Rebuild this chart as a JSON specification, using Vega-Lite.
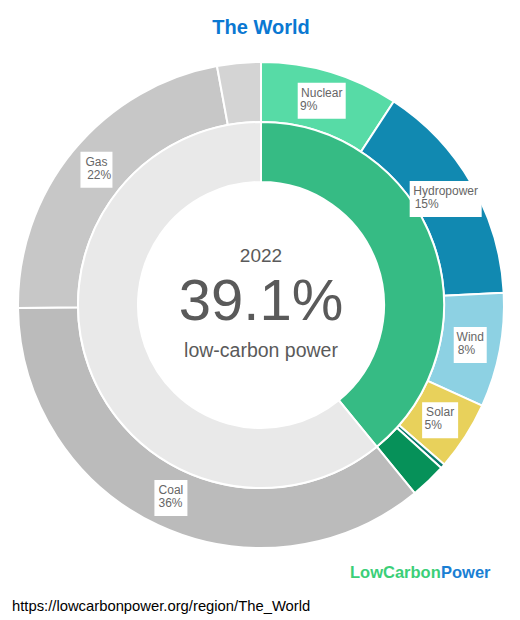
{
  "$schema": "https://vega.github.io/schema/vega-lite/v6.json",
  "width": 518,
  "height": 510,
  "autosize": "none",
  "padding": {"left": 2, "top": 50, "right": 0, "bottom": 60},
  "background": "white",
  "title": {"text": "The World", "fontSize": 20, "font": "Liberation Sans", "fontWeight": "bold", "color": "#0a78d2", "anchor": "middle", "offset": 12},
  "config": {"view": {"stroke": null}, "text": {"font": "Liberation Sans"}},
  "datasets": {
    "mix": [
      {"category": "Nuclear", "value": 0.092},
      {"category": "Hydropower", "value": 0.150},
      {"category": "Wind", "value": 0.076},
      {"category": "Solar", "value": 0.046},
      {"category": "Geothermal", "value": 0.003},
      {"category": "Biofuels", "value": 0.024},
      {"category": "Coal", "value": 0.357},
      {"category": "Gas", "value": 0.223},
      {"category": "Oil", "value": 0.029}
    ],
    "split": [
      {"category": "Low-carbon", "value": 0.391},
      {"category": "Fossil", "value": 0.609}
    ],
    "headline": [
      {"year": "2022", "share": 0.391, "caption": "low-carbon power", "url": "https://lowcarbonpower.org/region/The_World"}
    ]
  },
  "layer": [
    {
      "data": {"name": "mix"},
      "transform": [{"window": [{"op": "row_number", "as": "rank"}]}],
      "mark": {"type": "arc", "outerRadius": 243, "innerRadius": 183, "stroke": "white", "strokeWidth": 2},
      "encoding": {
        "theta": {"field": "value", "type": "quantitative", "stack": true},
        "color": {"field": "category", "type": "nominal", "legend": null,
          "scale": {"domain": ["Nuclear","Hydropower","Wind","Solar","Geothermal","Biofuels","Coal","Gas","Oil","Low-carbon","Fossil"],
                    "range": ["#57dba6","#1189b1","#8dd1e3","#e8d15b","#0b7a6c","#069159","#bbbbbb","#c7c7c7","#d4d4d4","#36bb84","#e9e9e9"]}},
        "order": {"field": "rank", "type": "quantitative"}
      }
    },
    {
      "data": {"name": "split"},
      "transform": [{"window": [{"op": "row_number", "as": "rank"}]}],
      "mark": {"type": "arc", "outerRadius": 183, "innerRadius": 123, "stroke": "white", "strokeWidth": 2},
      "encoding": {
        "theta": {"field": "value", "type": "quantitative", "stack": true},
        "color": {"field": "category", "type": "nominal", "legend": null},
        "order": {"field": "rank", "type": "quantitative"}
      }
    },
    {
      "data": {"name": "mix"},
      "transform": [
        {"window": [{"op": "row_number", "as": "rank"}]},
        {"stack": "value", "groupby": [], "sort": [{"field": "rank", "order": "ascending"}], "as": ["v0", "v1"], "offset": "normalize"},
        {"filter": "datum.value >= 0.04"}
      ],
      "mark": {"type": "point", "filled": true, "fill": "white", "opacity": 1, "fillOpacity": 1, "strokeWidth": 0, "size": 10000,
        "x": {"expr": "width / 2 + 213 * sin(PI * (datum.v0 + datum.v1))"},
        "y": {"expr": "height / 2 - 213 * cos(PI * (datum.v0 + datum.v1))"}},
      "encoding": {
        "shape": {"field": "category", "type": "nominal", "legend": null,
          "scale": {"domain": ["Nuclear","Hydropower","Wind","Solar","Coal","Gas"],
                    "range": ["M-0.48,-0.36H0.48V0.36H-0.48Z","M-0.72,-0.36H0.72V0.36H-0.72Z","M-0.33,-0.36H0.33V0.36H-0.33Z","M-0.36,-0.36H0.36V0.36H-0.36Z","M-0.33,-0.36H0.33V0.36H-0.33Z","M-0.32,-0.36H0.32V0.36H-0.32Z"]}}
      }
    },
    {
      "data": {"name": "mix"},
      "transform": [{"window": [{"op": "row_number", "as": "rank"}]}],
      "mark": {"type": "text", "dy": -4, "align": "center", "baseline": "alphabetic", "fontSize": 12, "fill": "#666666"},
      "encoding": {
        "theta": {"field": "value", "type": "quantitative", "stack": true},
        "radius": {"value": 213},
        "detail": {"field": "category", "type": "nominal"},
        "order": {"field": "rank", "type": "quantitative"},
        "text": {"condition": {"test": "datum.value < 0.04", "value": ""}, "field": "category", "type": "nominal"}
      }
    },
    {
      "data": {"name": "mix"},
      "transform": [{"window": [{"op": "row_number", "as": "rank"}]}],
      "mark": {"type": "text", "dy": 9, "dx": {"expr": "-length(datum.category) * 3.1"}, "align": "left", "baseline": "alphabetic", "fontSize": 12, "fill": "#666666"},
      "encoding": {
        "theta": {"field": "value", "type": "quantitative", "stack": true},
        "radius": {"value": 213},
        "detail": {"field": "category", "type": "nominal"},
        "order": {"field": "rank", "type": "quantitative"},
        "text": {"condition": {"test": "datum.value < 0.04", "value": ""}, "field": "value", "type": "quantitative", "format": ".0%"}
      }
    },
    {
      "data": {"name": "headline"},
      "mark": {"type": "text", "dy": -43, "align": "center", "baseline": "alphabetic", "fontSize": 19, "fill": "#5a5a5a"},
      "encoding": {"text": {"field": "year", "type": "nominal"}}
    },
    {
      "data": {"name": "headline"},
      "mark": {"type": "text", "dy": 15, "align": "center", "baseline": "alphabetic", "fontSize": 58, "fill": "#5a5a5a"},
      "encoding": {"text": {"field": "share", "type": "quantitative", "format": ".1%"}}
    },
    {
      "data": {"name": "headline"},
      "mark": {"type": "text", "dy": 52, "align": "center", "baseline": "alphabetic", "fontSize": 19.5, "fill": "#5a5a5a"},
      "encoding": {"text": {"field": "caption", "type": "nominal"}}
    },
    {
      "data": {"name": "headline"},
      "mark": {"type": "text", "x": 10, "y": 561, "align": "left", "baseline": "alphabetic", "fontSize": 14.8, "fill": "#000000"},
      "encoding": {"text": {"field": "url", "type": "nominal"}}
    },
    {
      "data": {"name": "headline"},
      "mark": {"type": "text", "x": 348, "y": 528, "align": "left", "baseline": "alphabetic", "fontSize": 16.5, "fontWeight": "bold", "fill": "#3bcf78", "text": "LowCarbon"},
      "encoding": {}
    },
    {
      "data": {"name": "headline"},
      "mark": {"type": "text", "x": 439, "y": 528, "align": "left", "baseline": "alphabetic", "fontSize": 16.5, "fontWeight": "bold", "fill": "#1a7fd4", "text": "Power"},
      "encoding": {}
    }
  ]
}
